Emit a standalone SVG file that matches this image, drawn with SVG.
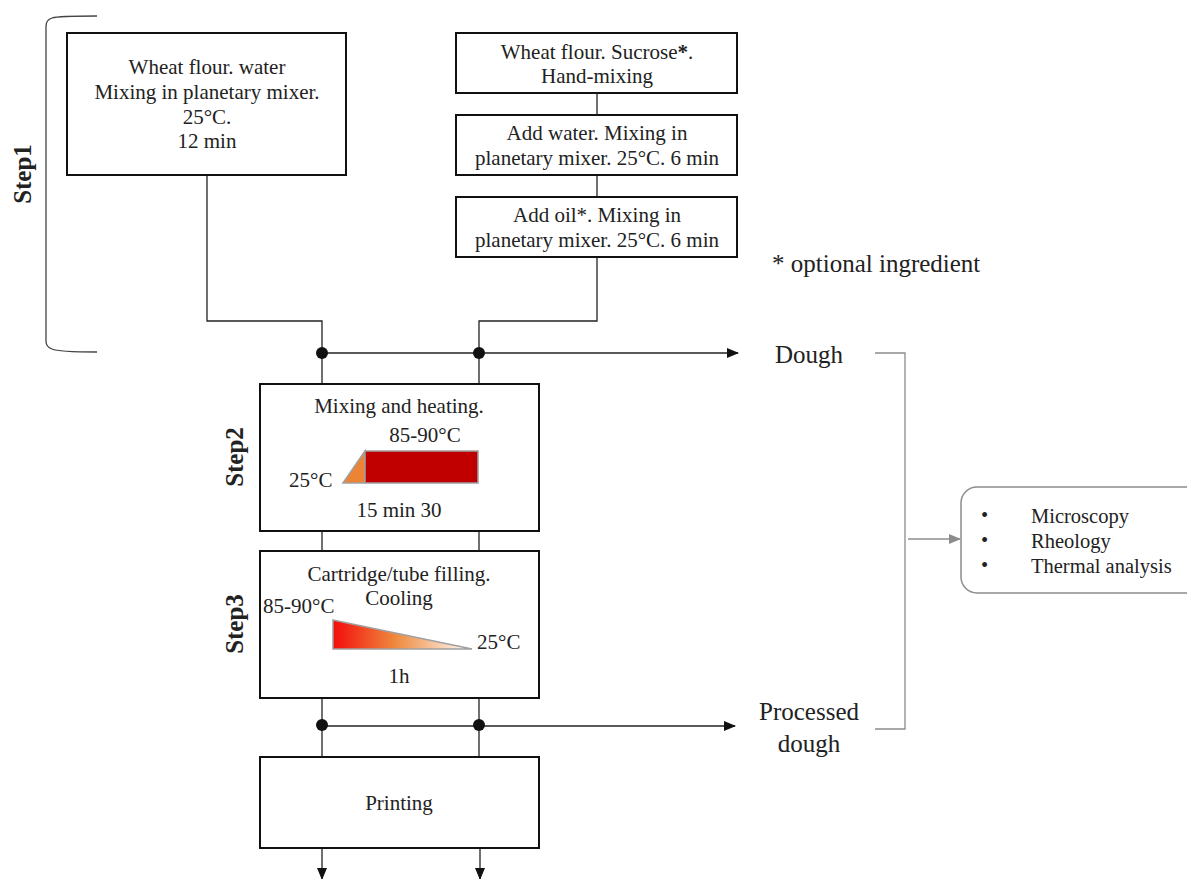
<svg xmlns="http://www.w3.org/2000/svg" width="1187" height="879" viewBox="0 0 1187 879" font-family="'Liberation Serif', 'Times New Roman', serif">
<style>
text{font-family:'Liberation Serif','Times New Roman',serif;font-size:21px;fill:#222}
.c{text-anchor:middle}
.b{font-weight:bold}
.st{font-weight:bold;font-size:25px;text-anchor:middle}
.lg{font-size:25px}
.sm{font-size:20.5px}
.box{fill:#fff;stroke:#111;stroke-width:2}
.ln{fill:none;stroke:#222;stroke-width:1.3}
.gl{fill:none;stroke:#8c8c8c;stroke-width:1.3}
</style>
<defs>
<marker id="ah" markerWidth="12" markerHeight="10" refX="11" refY="5" orient="auto" markerUnits="userSpaceOnUse"><path d="M0,0 L12,5 L0,10 Z" fill="#111"/></marker>
<marker id="ahg" markerWidth="12" markerHeight="10" refX="11" refY="5" orient="auto" markerUnits="userSpaceOnUse"><path d="M0,0 L12,5 L0,10 Z" fill="#8c8c8c"/></marker>
<linearGradient id="cool" x1="0" y1="0" x2="1" y2="0"><stop offset="0" stop-color="#f40c0c"/><stop offset="0.45" stop-color="#ee8a3e"/><stop offset="1" stop-color="#ffffff"/></linearGradient>
</defs>
<rect width="1187" height="879" fill="#fff"/>

<g id="connectors">
<path class="ln" d="M207,175 V321 H322 V384"/>
<path class="ln" d="M597,257 V321 H479 V384"/>
<path class="ln" d="M597,93 V115"/>
<path class="ln" d="M597,175 V197"/>
<path class="ln" d="M322,353 H738" marker-end="url(#ah)"/>
<path class="ln" d="M322,531 V551"/>
<path class="ln" d="M479,531 V551"/>
<path class="ln" d="M322,698 V757"/>
<path class="ln" d="M479,698 V757"/>
<path class="ln" d="M322,726 H735" marker-end="url(#ah)"/>
<path class="ln" d="M322,848 V879" marker-end="url(#ah)"/>
<path class="ln" d="M480,848 V879" marker-end="url(#ah)"/>
<circle cx="322" cy="353" r="6" fill="#111"/>
<circle cx="479" cy="353" r="6" fill="#111"/>
<circle cx="322" cy="725" r="6" fill="#111"/>
<circle cx="479" cy="725" r="6" fill="#111"/>
<path class="gl" d="M875,353 H905 V729 H875"/>
<path class="gl" d="M908,539 H960" marker-end="url(#ahg)"/>
</g>

<g id="step1-bracket">
<path d="M97,16 Q58,16 52,18 Q46,20 46,26 V341 Q46,347 52,349 Q58,352 97,352" fill="none" stroke="#444" stroke-width="1.3"/>
<text class="st" transform="translate(31,174) rotate(-90)">Step1</text>
</g>

<g id="node-flour-water">
<rect class="box" x="67" y="33" width="279" height="142"/>
<text class="c" x="207" y="74">Wheat flour. water</text>
<text class="c" x="207" y="99">Mixing in planetary mixer.</text>
<text class="c" x="207" y="124">25°C.</text>
<text class="c" x="207" y="148">12 min</text>
</g>

<g id="node-flour-sucrose">
<rect class="box" x="456" y="33" width="281" height="60"/>
<text class="c" x="597" y="59">Wheat flour. Sucrose<tspan class="b">*</tspan>.</text>
<text class="c" x="597" y="83">Hand-mixing</text>
</g>

<g id="node-add-water">
<rect class="box" x="456" y="115" width="281" height="60"/>
<text class="c" x="597" y="140">Add water. Mixing in</text>
<text class="c" x="597" y="165">planetary mixer. 25°C. 6 min</text>
</g>

<g id="node-add-oil">
<rect class="box" x="456" y="197" width="281" height="60"/>
<text class="c" x="597" y="222">Add oil*. Mixing in</text>
<text class="c" x="597" y="247">planetary mixer. 25°C. 6 min</text>
</g>

<g id="note">
<text class="lg" x="772" y="272">* optional ingredient</text>
</g>

<g id="node-dough">
<text class="lg c" x="809" y="363">Dough</text>
</g>

<g id="node-step2">
<rect class="box" x="260" y="384" width="279" height="147"/>
<text class="st" transform="translate(243,457) rotate(-90)">Step2</text>
<text class="c" x="399" y="413">Mixing and heating.</text>
<text class="c" x="425" y="442">85-90°C</text>
<polygon points="343,483 365,451 365,483" fill="#ed8334" stroke="#a0a0a0" stroke-width="1.5"/>
<rect x="365" y="451" width="113" height="32" fill="#c00000" stroke="#a0a0a0" stroke-width="1.5"/>
<text x="289" y="487">25°C</text>
<text class="c" x="399" y="517">15 min 30</text>
</g>

<g id="node-step3">
<rect class="box" x="260" y="551" width="279" height="147"/>
<text class="st" transform="translate(243,624) rotate(-90)">Step3</text>
<text class="c" x="399" y="581">Cartridge/tube filling.</text>
<text class="c" x="399" y="605">Cooling</text>
<text x="263" y="613">85-90°C</text>
<polygon points="333,620 472,649 333,649" fill="url(#cool)" stroke="#a0a0a0" stroke-width="1.5"/>
<text x="477" y="649">25°C</text>
<text class="c" x="399" y="683">1h</text>
</g>

<g id="node-processed">
<text class="lg c" x="809" y="720">Processed</text>
<text class="lg c" x="809" y="752">dough</text>
</g>

<g id="node-printing">
<rect class="box" x="260" y="757" width="279" height="91"/>
<text class="c" x="399" y="810">Printing</text>
</g>

<g id="node-analysis">
<rect x="961" y="487" width="250" height="106" rx="16" ry="16" fill="#fff" stroke="#8c8c8c" stroke-width="1.5"/>
<text class="sm" x="981" y="522">•</text>
<text class="sm" x="1031" y="523">Microscopy</text>
<text class="sm" x="981" y="547">•</text>
<text class="sm" x="1031" y="548">Rheology</text>
<text class="sm" x="981" y="572">•</text>
<text class="sm" x="1031" y="573">Thermal analysis</text>
</g>
</svg>
